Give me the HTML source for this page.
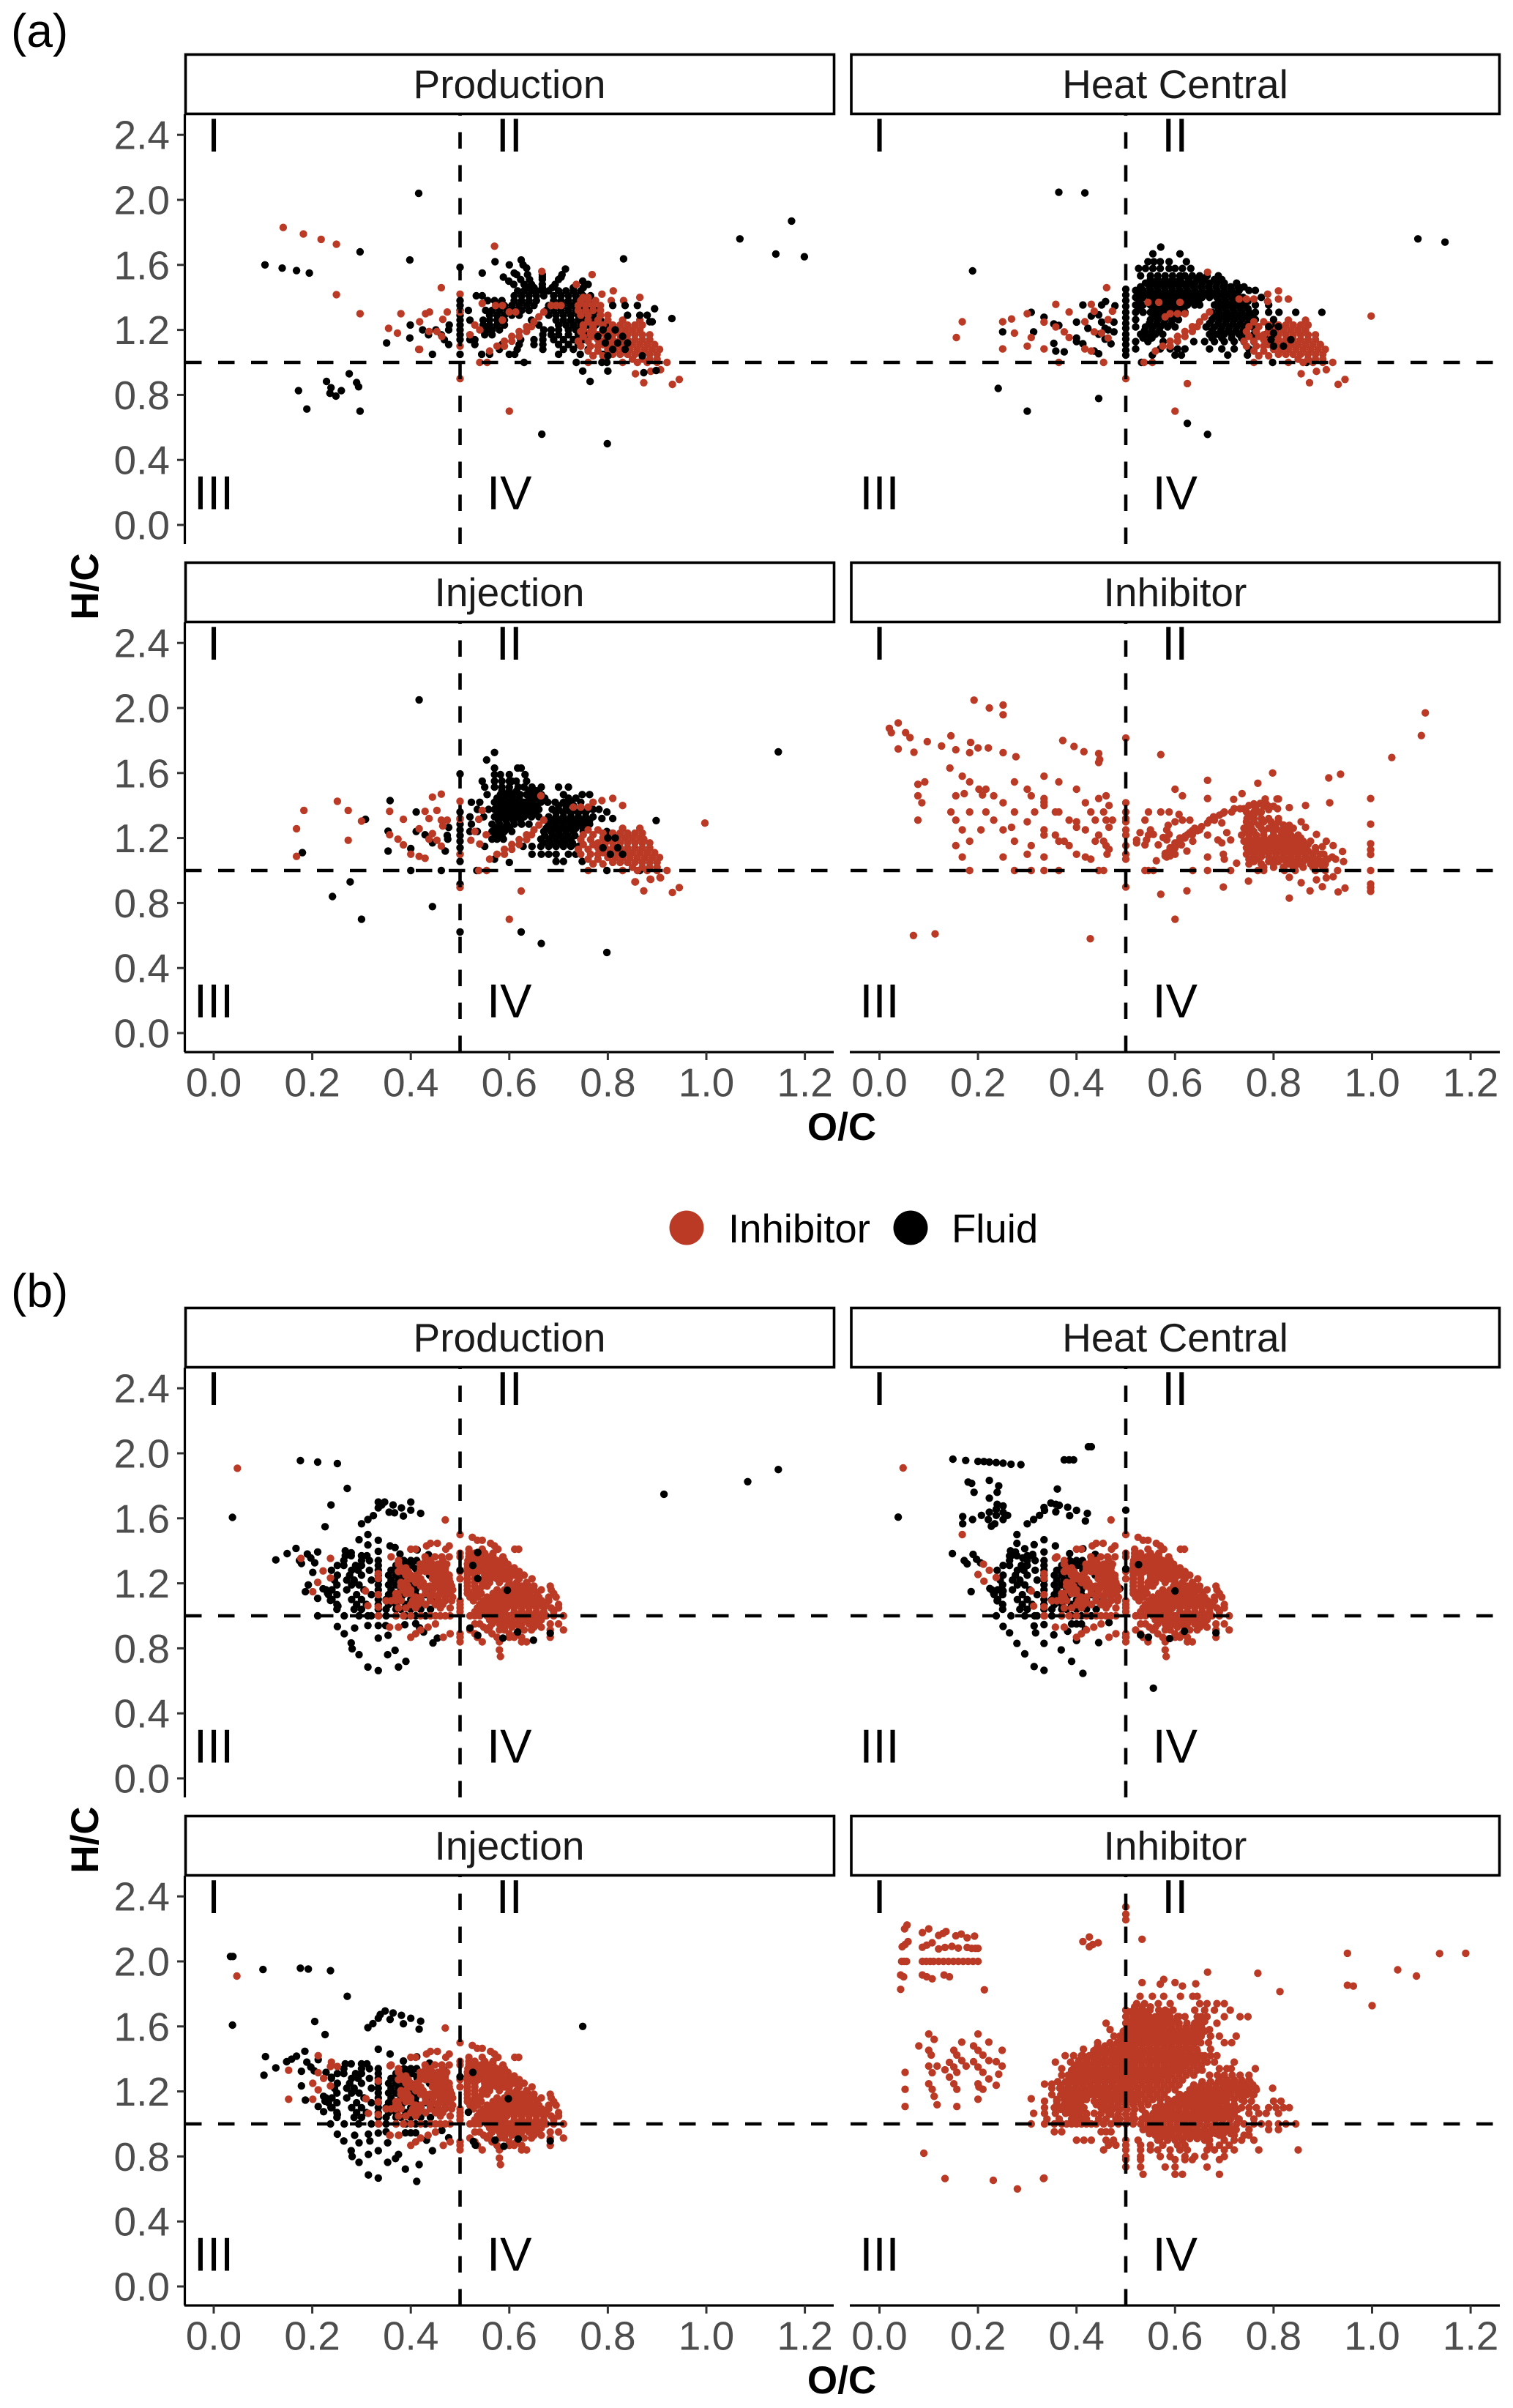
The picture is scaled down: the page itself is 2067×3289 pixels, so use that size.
<!DOCTYPE html>
<html lang="en">
<head>
<meta charset="utf-8">
<title>Van Krevelen H/C vs O/C faceted scatter</title>
<style>
html,body{margin:0;padding:0;background:#fff}
svg{display:block;font-family:"Liberation Sans",sans-serif}
</style>
</head>
<body>
<svg id="chart" xmlns="http://www.w3.org/2000/svg" width="2067" height="3289" viewBox="0 0 2067 3289">
<rect width="2067" height="3289" fill="#fff"/>
<g id="content"></g>
</svg>
<script>
// Each row: [H/C value, O/C value, O/C value, ...]
const xTickValues=[0,0.2,0.4,0.6,0.8,1,1.2];
const xTickLabels=["0.0","0.2","0.4","0.6","0.8","1.0","1.2"];
const yTickValues=[0,0.4,0.8,1.2,1.6,2,2.4];
const yTickLabels=["0.0","0.4","0.8","1.2","1.6","2.0","2.4"];
const facetTitles=["Production","Heat Central","Injection","Inhibitor"];
const legendLabels=["Inhibitor","Fluid"];
const thresholdOC=0.5;
const thresholdHC=1;

const aRedRay=[[1.07,.56],[1.10,.575,.59],[1.13,.59,.605],[1.16,.605,.62],[1.19,.62,.635],[1.22,.635,.645],[1.25,.65],[1.28,.66],[1.31,.67]];
const aRedLow=[[1.26,.83,.865],[1.23,.79,.81,.825,.84,.855,.87],[1.20,.79,.805,.82,.835,.85,.865],[1.17,.78,.795,.81,.825,.84,.855,.87,.885],[1.14,.78,.795,.81,.825,.84,.855,.87,.885],[1.11,.79,.805,.82,.835,.85,.865,.88,.895],[1.08,.80,.815,.83,.845,.86,.875,.89,.905],[1.05,.81,.825,.84,.855,.87,.885,.90],[1.02,.85,.87,.885,.90],[1.00,.76,.83,.86,.88,.90,.92],[.955,.907],[.945,.887],[.93,.856],[.895,.945],[.875,.873],[.865,.931]];
const aRedMid=[[1.25,.76,.78],[1.22,.75,.77],[1.19,.745,.765],[1.16,.75,.77],[1.13,.74,.76],[1.10,.745,.765,.78],[1.07,.76,.78],[1.04,.77,.79]];
const aRedHigh=[[1.54,.768],[1.48,.736],[1.44,.811],[1.42,.788],[1.40,.865,.75,.76],[1.38,.745,.76,.775,.807,.832],[1.35,.74,.755,.77,.785],[1.32,.74,.755,.77,.785],[1.29,.745,.76,.785,.80],[1.26,.76,.78,.80],[1.23,.75,.77],[1.20,.75,.77],[1.17,.765]];

const aProdFluid=[[2.04,.416],[1.87,1.173],[1.76,1.068],[1.68,.297],[1.667,1.141],[1.65,1.199],[1.637,.832],[1.63,.398,.624],[1.62,.571],[1.6,.104,.6,.628],[1.585,.5],[1.58,.139,.635],[1.575,.714],[1.565,.168],[1.55,.194,.545,.61],[1.54,.615,.637,.707,.667],[1.525,.588,.667,.705],[1.51,.623,.641,.70,.667],[1.5,.599,.749],[1.48,.609,.63,.645,.667,.693,.76],[1.46,.638,.65,.667,.687,.73,.75],[1.44,.617,.63,.645,.655,.667,.68,.70,.715,.73,.745],[1.41,.533,.545,.61,.625,.64,.655,.67,.69,.705,.72,.735,.75,.765],[1.38,.5,.556,.57,.585,.61,.625,.64,.655,.69,.705,.72,.735,.75,.77],[1.35,.5,.575,.59,.605,.62,.635,.65,.68,.695,.71,.725,.74,.755],[1.32,.5,.517,.552,.565,.58,.595,.61,.625,.64,.675,.69,.705,.72,.735,.75,.765,.78],[1.29,.5,.56,.575,.59,.605,.62,.68,.695,.71,.725,.74,.755,.77],[1.26,.5,.52,.547,.56,.575,.59,.645,.695,.71,.725,.74,.755,.77,.785],[1.23,.399,.478,.5,.547,.56,.575,.59,.66,.70,.715,.73,.745,.76,.775,.795],[1.20,.424,.451,.477,.5,.555,.565,.58,.67,.685,.70,.72,.735,.75,.77,.80],[1.17,.436,.462,.5,.52,.55,.565,.668,.685,.70,.72,.74,.76,.78,.81],[1.15,.398],[1.14,.468,.5,.52,.53,.623,.65,.668,.69,.71,.73,.75,.78],[1.12,.351],[1.11,.477,.53,.585,.62,.65,.668,.70,.72,.74,.79],[1.08,.58,.616,.668,.71,.73,.76],[1.05,.444,.5,.544,.56,.6,.611,.70,.744,.79],[.93,.275],[.883,.229],[.876,.29],[.85,.294],[.844,.238],[.826,.172,.259],[.81,.236],[.793,.248],[.713,.189],[.70,.297],[.558,.666],[.50,.799]];
const aProdFluidTop=[[1.35,.81,.835,.86],[1.33,.895],[1.29,.84,.865,.88],[1.27,.93],[1.25,.885,.89],[1.2,.79,.815],[1.16,.78,.80,.83],[1.12,.795,.82,.84],[1.08,.81,.835],[1.04,.80,.87],[1.0,.63,.736,.788,.798],[.947,.749,.80],[.937,.873],[.95,.898],[.883,.764]];
const aProdRed=[[1.83,.141],[1.79,.182],[1.757,.218],[1.727,.249],[1.715,.57],[1.56,.666],[1.46,.462],[1.42,.5],[1.417,.249],[1.363,.545],[1.35,.572,.586,.685,.695,.705],[1.31,.438,.474,.60,.613,.5],[1.30,.297,.38,.43],[1.265,.465],[1.26,.586],[1.25,.418],[1.23,.53],[1.21,.355],[1.20,.54],[1.19,.437,.453],[1.18,.373],[1.17,.52],[1.16,.463],[1.10,.5],[1.08,.418,.416],[1.0,.54,.555],[.90,.5],[.70,.6]];

const aHeatFluid=[[2.047,.364],[2.043,.417],[1.76,1.093],[1.74,1.148],[1.71,.571],[1.668,.555,.61],[1.62,.545,.557,.57,.588,.623],[1.578,.526,.54,.555,.57,.588,.60,.615,.632],[1.563,.189],[1.533,.53,.55,.565,.58,.595,.61,.62,.635,.65,.665,.688],[1.51,.55,.565,.58,.595,.61,.628,.645,.66,.68,.695],[1.488,.54,.555,.57,.585,.60,.615,.626,.64,.655,.67,.685,.70,.725],[1.465,.53,.548,.563,.578,.593,.608,.623,.638,.653,.668,.683,.698,.713,.728,.74],[1.45,.5],[1.443,.52,.535,.55,.565,.58,.595,.61,.625,.64,.655,.67,.685,.70,.715,.73,.75,.763],[1.42,.528,.543,.558,.573,.588,.603,.618,.633,.648,.663,.678,.693,.708,.723],[1.415,.5],[1.40,.52,.535,.55,.565,.58,.595,.61,.625,.64,.655,.67,.685,.70,.715,.73,.738,.775],[1.376,.528,.558,.573,.588,.603,.618,.633,.648,.688,.703,.718,.733,.748],[1.375,.459],[1.38,.5],[1.353,.413,.451,.52,.535,.55,.565,.58,.595,.61,.625,.64,.65,.68,.695,.71,.725,.74,.763,.79],[1.348,.478],[1.345,.5],[1.33,.528,.558,.573,.588,.603,.618,.688,.703,.718,.733,.748],[1.308,.308,.5,.52,.535,.55,.565,.58,.595,.61,.62,.675,.69,.705,.72,.735,.75,.763,.79,.811,.845,.898],[1.293,.445],[1.285,.43,.558,.573,.588,.60,.683,.698,.713,.728,.743,.757],[1.278,.334],[1.275,.5],[1.263,.52,.55,.565,.58,.595,.607,.675,.69,.705,.72,.735,.75,.763,.80],[1.248,.40,.451,.476],[1.24,.5,.548,.563,.578,.593,.67,.688,.703,.718,.733,.748],[1.237,.354],[1.228,.364],[1.218,.52,.54,.555,.57,.585,.60,.663,.68,.695,.71,.725,.74,.757,.80],[1.21,.423,.458,.5],[1.2,.464],[1.195,.538,.553,.568,.675,.693,.708,.723,.738],[1.188,.25,.313,.476],[1.173,.445,.5,.53,.545,.56,.575,.67,.685,.70,.715,.73,.745,.76,.785,.80],[1.15,.40,.535,.553,.675,.695,.715,.735],[1.143,.458,.5],[1.128,.40,.52,.545,.576,.638,.66,.68,.70,.72,.74,.76],[1.117,.354],[1.115,.413,.47],[1.11,.5],[1.083,.52,.57,.59,.605,.62,.67,.695,.72,.75],[1.075,.5],[1.07,.358,.436],[1.065,.375],[1.053,.445],[1.045,.5,.554,.60,.613,.707,.747],[1.0,.532,.798,.867],[.84,.241],[.778,.445],[.70,.30],[.625,.625],[.557,.666]];
const aHeatTop=[[1.22,.79,.81],[1.18,.80],[1.14,.795,.835],[1.10,.80,.82]];
const aHeatRed=[[1.555,.666],[1.46,.461],[1.44,.81],[1.42,.788],[1.39,.83,.81,.73,.745,.76],[1.375,.788],[1.37,.545,.567,.61],[1.357,.358,.43],[1.315,.436,.473],[1.31,.385],[1.30,.30,.59,.605,.62],[1.285,.998],[1.28,.58],[1.267,.268],[1.263,.464],[1.25,.168,.25,.417],[1.248,.334],[1.218,.358],[1.188,.375,.436],[1.18,.274,.451],[1.153,.156,.308,.385],[1.15,.464],[1.10,.30],[1.083,.25,.334,.417],[1.07,.43],[1.0,.364,.455,.537,.554],[.90,.5],[.87,.625],[.70,.6]];

const aInjFluid=[[2.05,.417],[1.73,1.146],[1.726,.57],[1.68,.554],[1.63,.57,.617,.624],[1.594,.5],[1.59,.57,.582,.60,.632],[1.55,.545,.57,.585,.60,.605,.614,.635],[1.513,.55,.57,.585,.60,.618,.63,.646,.665,.70,.72],[1.49,.585,.60,.615,.64,.655],[1.467,.555,.582,.595,.61,.622,.635,.65,.665,.71,.748,.763],[1.445,.575,.59,.605,.62,.64,.655,.672,.72,.735],[1.43,.358],[1.42,.523,.54,.57,.585,.60,.615,.63,.645,.664,.678,.693,.71,.725,.745],[1.40,.578,.593,.608,.623,.638,.653,.70,.715,.73],[1.376,.535,.558,.57,.585,.60,.615,.63,.645,.66,.687,.70,.715,.73,.745,.76,.77,.782],[1.36,.411,.5,.798],[1.355,.578,.593,.608,.623,.638,.653,.695,.71,.725,.74,.755],[1.33,.52,.548,.57,.585,.60,.615,.63,.645,.66,.68,.695,.71,.725,.74,.755,.77],[1.32,.5,.81,.788],[1.315,.308],[1.31,.578,.593,.608,.623,.688,.703,.718,.733,.748,.763],[1.307,.898],[1.285,.5,.523,.565,.58,.595,.61,.625,.64,.68,.695,.71,.725,.74,.755,.763],[1.265,.477],[1.26,.573,.588,.60,.675,.69,.705,.72,.735,.75],[1.25,.5],[1.242,.354],[1.24,.411,.52,.535,.565,.58,.59,.605,.67,.685,.70,.715,.73,.75,.798],[1.22,.429],[1.216,.474],[1.215,.5,.572,.585,.672,.688,.703,.718,.733],[1.193,.475,.565,.575,.588,.664,.68,.695,.71,.725,.745],[1.18,.5],[1.17,.444,.668,.683,.698,.713,.728],[1.148,.55,.628,.646,.664,.68,.695,.71,.725,.74],[1.14,.5],[1.135,.40],[1.12,.354,.47],[1.11,.18],[1.10,.5,.646,.665,.68,.695,.72,.735],[1.07,.57],[1.056,.5,.695,.71,.748],[1.05,.6],[1.0,.40,.462,.534,.798,.865],[.93,.277],[.916,.5],[.84,.241],[.778,.444],[.70,.30],[.622,.5,.624],[.551,.665],[.496,.798]];
const aInjTop=[[1.2,.80,.815],[1.14,.79,.82],[1.10,.805,.83]];
const aInjRed=[[1.47,.462],[1.46,.664],[1.452,.444],[1.444,.81],[1.43,.788],[1.426,.251,.5],[1.42,.77],[1.40,.83],[1.39,.73,.745,.76],[1.37,.183,.273,.453,.545],[1.364,.357,.429],[1.32,.437],[1.315,.385,.5,.538],[1.31,.462,.474],[1.304,.30],[1.292,.997],[1.274,.465],[1.257,.168,.417],[1.24,.53],[1.227,.444],[1.22,.357,.553],[1.216,.84],[1.193,.374,.437,.873],[1.186,.273,.453,.522],[1.163,.54],[1.158,.385],[1.15,.462],[1.10,.40,.5],[1.087,.168,.417],[1.075,.429],[1.0,.538,.554],[.957,.906],[.947,.886],[.93,.855],[.896,.5],[.874,.624],[.70,.6]];

const aInhRed=[[2.048,.192],[2.018,.251],[2.0,.223],[1.97,1.108],[1.958,.251],[1.908,.038],[1.875,.02],[1.848,.024,.053],[1.83,1.10],[1.829,.145],[1.818,.062],[1.815,.5],[1.80,.372],[1.793,.097],[1.788,.185],[1.766,.126],[1.763,.395],[1.754,.20,.221],[1.748,.038],[1.743,.155],[1.731,.415],[1.728,.07],[1.725,.183,.251],[1.72,.445],[1.713,.571],[1.70,.277],[1.695,1.04],[1.683,.447],[1.665,.445],[1.63,.143],[1.60,.798],[1.593,.936],[1.58,.168,.334],[1.57,.912],[1.555,.666],[1.545,.183,.092,.274,.364],[1.537,.768],[1.53,.078],[1.50,.202,.216,.30,.40,.60],[1.473,.172,.736],[1.465,.209],[1.46,.078,.155,.232,.308,.46,.615],[1.443,.334,.445,.666,.997],[1.44,.783,.807,.81],[1.438,.719],[1.42,.334],[1.417,.086,.251,.418,.5,.914],[1.413,.773],[1.40,.334,.466,.76,.865],[1.387,.832],[1.38,.808,.732],[1.375,.79],[1.36,.145,.183,.216,.274,.315,.357,.364,.429,.455,.5,.546,.571,.588,.745,.76,.77,.775],[1.353,.698],[1.345,.608],[1.33,.678],[1.32,.5,.746,.76,.775,.79,.81],[1.31,.078,.155,.232,.385,.438,.46,.473,.539,.615,.63],[1.30,.30,.40,.5,.60,.745,.76,.78,.795,.81,.856],[1.293,.666,.695],[1.285,.997],[1.278,.586,.832],[1.27,.654],[1.266,.268,.40,.466,.865],[1.26,.64,.74,.755,.775,.79,.805,.82,.84],[1.25,.168,.206,.251,.334,.418,.5,.55,.583],[1.233,.529,.63,.705],[1.222,.556,.588,.887],[1.218,.334,.357,.445,.5,.546,.666,.735,.75,.765,.78,.80,.82,.835,.85],[1.21,.62],[1.203,.576],[1.188,.522,.542,.583,.61,.687,.713],[1.18,.183,.274,.364,.375,.438,.455,.636,.74,.755,.77,.785,.80,.815,.83,.845,.86,.875,.907],[1.17,.522,.695],[1.158,.539,.566,.60,.613],[1.153,.155,.308,.385,.46,.5,.921],[1.147,.899],[1.14,.745,.76,.775,.79,.805,.82,.835,.85,.865,.885],[1.135,.59],[1.13,.466],[1.12,.624],[1.117,.94],[1.105,.58],[1.10,.30,.40,.462,.5,.60,.698,.745,.76,.775,.79,.805,.82,.835,.85,.865,.88,.895,.902],[1.083,.168,.251,.334,.418,.583,.666,.919],[1.07,.429,.5,.70,.75,.765,.80,.815,.83,.85,.87,.89,.91,.926],[1.165,.997],[1.128,.997],[1.098,.997],[1.06,.562],[1.055,.942],[1.045,.725],[1.04,.75,.775,.80,.83,.85,.875,.89,.905],[1.0,.183,.274,.308,.334,.364,.445,.455,.539,.546,.556,.636,.666,.713,.768,.78,.822,.844,.885,.905,.93,.997],[.962,.921],[.958,.832],[.955,.907],[.943,.887],[.935,.749],[.925,.856],[.917,.997],[.90,.899],[.898,.5,.698],[.895,.997],[.892,.945],[.875,.624,.874],[.872,.997],[.868,.931],[.854,.571],[.83,.832],[.70,.60],[.61,.113],[.60,.069],[.58,.428]];
const aInhRidge=[[1.41,.76,.785],[1.395,.78,.79,.80],[1.38,.72,.74],[1.40,.75,.765],[1.36,.70,.715],[1.34,.69],[1.31,.67,.68],[1.25,.65],[1.245,.635,.645],[1.22,.625,.635],[1.2,.61,.62],[1.17,.60,.61],[1.14,.59,.60],[1.11,.585,.595],[1.09,.58,.59]];
const aInhDense=[[1.34,.75,.76],[1.28,.75,.77,.80,.82],[1.24,.745,.76,.78,.80,.815,.83],[1.2,.75,.765,.78,.795,.81,.825,.84,.855],[1.16,.75,.765,.78,.795,.81,.825,.84,.855,.87],[1.12,.75,.765,.78,.795,.81,.825,.84,.855,.87,.885],[1.085,.76,.775,.79,.805,.82,.835,.85,.865,.88],[1.055,.76,.79,.81,.825,.84,.86,.88,.90],[1.02,.78,.80,.82,.84,.86,.88,.90]];

const bRedFan=[[1.59,.47],[1.50,.5],[1.483,.525],[1.465,.535,.545],[1.446,.562,.44,.454],[1.43,.57,.478,.432],[1.41,.518,.545,.577,.611,.619,.40,.41,.471],[1.385,.518,.53,.55,.567,.5],[1.363,.518,.528,.542,.552,.56,.567,.587,.36,.429,.449,.463,.478,.5],[1.34,.516,.53,.545,.56,.575,.59,.44,.465,.375,.43],[1.318,.515,.525,.537,.543,.555,.565,.575,.585,.597,.375,.419,.429,.444,.455,.465,.473],[1.295,.515,.53,.545,.56,.57,.585,.60,.61,.38,.39,.42,.435,.45,.46,.47],[1.273,.515,.525,.537,.548,.56,.575,.59,.605,.62,.375,.385,.395,.419,.43,.439,.45,.46,.47,.5],[1.25,.515,.53,.55,.565,.58,.595,.61,.63,.39,.40,.412,.445,.455,.465,.478],[1.228,.515,.53,.55,.562,.575,.59,.60,.62,.646,.40,.41,.42,.444,.455,.467,.478,.5],[1.205,.515,.53,.545,.56,.58,.60,.615,.635,.38,.39,.41,.425,.45,.465,.48],[1.183,.515,.53,.545,.555,.597,.61,.625,.64,.65,.683,.38,.394,.42,.43,.439,.454,.468,.483],[1.16,.515,.53,.54,.575,.59,.605,.62,.635,.65,.665,.685,.385,.40,.43,.445,.46,.475,.485],[1.138,.515,.525,.533,.543,.567,.58,.595,.61,.625,.64,.656,.69,.37,.374,.39,.40,.43,.444,.459,.47,.48],[1.115,.52,.535,.555,.57,.585,.60,.615,.63,.645,.66,.68,.695,.37,.375,.41,.42,.44,.455,.47,.485],[1.093,.527,.547,.56,.575,.59,.605,.62,.635,.65,.666,.68,.35,.36,.37,.38,.404,.419,.44,.455,.47,.483,.5],[1.07,.54,.555,.57,.585,.60,.615,.63,.645,.66,.675,.70,.40,.415,.43,.45,.465,.5],[1.048,.535,.55,.565,.58,.595,.61,.625,.64,.655,.67,.685,.70,.375,.39,.41,.46,.48,.5],[1.025,.53,.545,.56,.575,.59,.61,.625,.64,.655,.67,.69,.5],[1.0,.335,.37,.385,.40,.42,.44,.45,.46,.47,.48,.52,.53,.54,.555,.57,.585,.60,.615,.63,.645,.66,.675,.69,.71],[.975,.56,.575,.59,.605,.62,.635,.65,.665],[.95,.53,.54,.565,.58,.595,.61,.625,.64,.655,.683,.70,.45],[.93,.357,.375,.548,.56,.59,.605,.62,.65,.665,.435],[.913,.52,.555,.58,.59,.63,.645,.683,.71,.42],[.89,.53,.565,.60,.615,.41,.48,.5],[.868,.535,.575,.60,.61,.625,.683,.40,.466,.5],[.84,.545,.58,.625,.635,.5],[.79,.58],[.75,.582]];
const bFluidCore=[[1.37,.267,.279,.30,.311],[1.34,.264,.30,.316,.334,.386,.40,.412],[1.31,.251,.264,.288,.30,.334,.37,.39,.402,.438],[1.28,.239,.28,.293,.316,.334,.36,.375,.413],[1.25,.251,.276,.30,.334,.355,.37,.385,.40,.438],[1.22,.245,.27,.285,.32,.334,.36,.375,.39,.405,.42],[1.19,.25,.28,.295,.334,.355,.37,.385,.40,.415,.466],[1.16,.228,.24,.27,.305,.334,.36,.38,.395,.41,.43],[1.13,.233,.25,.29,.32,.334,.355,.37,.385,.41,.43,.44],[1.10,.24,.28,.30,.334,.35,.36,.38,.40,.42,.44,.455],[1.07,.25,.29,.31,.334,.355,.37,.39,.41,.43,.45],[1.04,.25,.285,.30,.334,.35,.37,.38,.40,.42,.44],[1.0,.32,.35,.37,.39,.41,.43]];
const bProdFluid=[[1.955,.176],[1.946,.211],[1.937,.251],[1.90,1.146],[1.825,1.084],[1.784,.271],[1.748,.914],[1.70,.334,.347,.40],[1.682,.238,.341,.364],[1.664,.334,.381],[1.65,.40],[1.638,.356],[1.634,.367],[1.63,.42],[1.616,.324],[1.614,.385],[1.606,.038],[1.593,.313],[1.566,.30],[1.548,.226],[1.50,.313],[1.468,.295],[1.465,.334],[1.436,.313],[1.43,.358],[1.42,.368],[1.415,.167],[1.406,.413],[1.40,.267],[1.397,.334],[1.393,.211],[1.388,.279],[1.383,.149],[1.38,.19,.378],[1.376,.436],[1.356,.197],[1.344,.126],[1.34,.174],[1.326,.205],[1.322,.178],[1.29,.41],[1.267,.201],[1.19,.192],[1.166,.222],[1.148,.186],[1.139,.231],[1.107,.211],[1.094,.237],[1.06,.252],[1.0,.211,.265,.295,.313],[.952,.41],[.945,.388],[.94,.313,.334,.349],[.934,.251],[.926,.418],[.925,.286],[.90,.426],[.89,.265],[.88,.354],[.863,.334,.454],[.833,.279,.445],[.797,.281],[.788,.368],[.761,.295,.353],[.72,.39],[.685,.313,.375],[.663,.334]];
const bProdTop=[[1.39,.536],[1.31,.526],[1.28,.5],[1.23,.536],[1.157,.596],[.925,.52],[.90,.617],[.893,.683],[.88,.536],[.863,.587],[.85,.649]];
const bProdRed=[[1.908,.048],[1.353,.177,.237],[1.276,.222],[1.233,.237],[1.206,.211],[1.148,.201],[1.062,.313],[1.26,.334],[1.23,.334],[1.153,.308],[1.13,.334],[1.055,.334],[1.0,.334]];
const bHeatFluid=[[2.04,.424,.43],[1.964,.149],[1.96,.375,.385,.394],[1.956,.175],[1.95,.20],[1.949,.212],[1.946,.223],[1.943,.237],[1.939,.251],[1.933,.267],[1.93,.287],[1.833,.223],[1.823,.18],[1.815,.187],[1.80,.242],[1.78,.361],[1.76,.192,.239],[1.724,.223],[1.694,.348],[1.686,.239,.358],[1.68,.365],[1.676,.251],[1.668,.382],[1.667,.334],[1.656,.237],[1.65,.5],[1.649,.335,.40],[1.64,.358],[1.637,.251],[1.638,.223],[1.63,.422],[1.618,.207,.26,.237,.325],[1.616,.386],[1.611,.169],[1.607,.038],[1.593,.189,.221,.251,.313],[1.584,.418],[1.566,.169,.234,.30],[1.551,.227],[1.50,.279],[1.468,.334],[1.446,.279],[1.438,.314],[1.43,.357],[1.413,.295,.413],[1.40,.266],[1.393,.276,.334],[1.383,.148,.386],[1.378,.19,.311,.438],[1.368,.264],[1.356,.291],[1.348,.197,.30],[1.34,.172],[1.333,.39,.402,.466],[1.326,.205],[1.32,.178],[1.296,.413],[1.25,.438],[1.206,.466],[1.168,.224,.488],[1.153,.251],[1.149,.186],[1.138,.232],[1.093,.239],[1.0,.237,.267,.295,.315],[.958,.466],[.95,.39,.40,.41],[.946,.334],[.938,.314],[.935,.251],[.916,.418],[.905,.382],[.895,.264,.317],[.883,.354],[.868,.5],[.848,.40],[.835,.445],[.83,.279,.334],[.79,.369],[.766,.295],[.72,.39],[.688,.314],[.665,.334],[.646,.413],[.555,.556]];
const bHeatTop=[[1.315,.526],[1.288,.5],[1.153,.60],[.905,.619],[.895,.683],[.883,.53],[.868,.546],[.86,.589]];
const bHeatRed=[[1.91,.048],[1.50,.168],[1.356,.357],[1.318,.211],[1.28,.223],[1.26,.334],[1.254,.20],[1.236,.237],[1.23,.334],[1.213,.212],[1.153,.308],[1.13,.334],[1.06,.313],[1.055,.334],[1.0,.334]];
const bInjFluid=[[2.03,.034,.039],[1.958,.176],[1.953,.192],[1.95,.10],[1.943,.237],[1.785,.271],[1.695,.348],[1.683,.364],[1.673,.338],[1.668,.381],[1.65,.334,.40],[1.643,.358],[1.632,.42],[1.63,.205],[1.617,.323],[1.616,.385],[1.608,.038],[1.60,.749],[1.593,.313],[1.583,.417],[1.55,.226],[1.46,.334],[1.447,.185],[1.43,.358],[1.417,.168],[1.414,.105],[1.413,.412],[1.398,.158],[1.395,.212],[1.387,.385],[1.383,.148],[1.38,.189],[1.375,.438],[1.35,.197],[1.345,.126],[1.335,.389],[1.332,.467],[1.327,.204],[1.324,.178],[1.317,.228],[1.30,.102],[1.293,.412],[1.287,.239],[1.252,.438],[1.234,.178],[1.203,.467],[1.177,.412],[1.17,.223],[1.147,.186],[1.14,.226],[1.107,.212],[1.10,.238],[1.075,.223],[1.057,.251],[1.0,.237,.265,.294],[.96,.463],[.952,.35],[.945,.389,.40,.41],[.944,.334],[.937,.251,.314],[.93,.286],[.915,.477],[.90,.432],[.895,.264,.317],[.884,.295,.353],[.835,.279,.334,.444],[.812,.314,.375],[.80,.281],[.787,.369],[.764,.295,.353],[.75,.417],[.722,.389],[.686,.314],[.667,.334],[.647,.412]];
const bInjTop=[[1.317,.526],[1.29,.5],[1.155,.598],[1.072,.517],[.907,.618],[.90,.571],[.895,.683],[.892,.527],[.87,.531],[.862,.589]];
const bInjRed=[[1.91,.047],[1.42,.212],[1.38,.239],[1.357,.358],[1.353,.237,.251],[1.33,.152],[1.315,.212],[1.28,.223],[1.264,.334],[1.25,.201],[1.234,.237],[1.21,.212],[1.155,.309],[1.152,.152,.201],[1.135,.334],[1.065,.314],[1.057,.334],[1.0,.334],[.93,.358,.376]];

const bInhOutliers=[[2.335,.5],[2.29,.5],[2.256,.5],[2.224,.056],[2.20,.051,.10],[2.184,.135],[2.177,.087],[2.172,.129],[2.168,.166],[2.16,.12],[2.157,.155],[2.156,.193],[2.15,.426],[2.145,.178],[2.136,.533],[2.122,.058,.413],[2.115,.107,.444],[2.104,.052,.433],[2.10,.096],[2.093,.147],[2.09,.046,.426],[2.087,.087],[2.086,.133,.178],[2.082,.16],[2.08,.195,.187,.2],[2.077,.12],[2.05,.95,1.19],[2.048,1.137],[2.0,.045,.05,.055,.087,.095,.103,.11,.12,.13,.14,.15,.16,.17,.18,.19,.2],[1.948,1.052],[1.934,.666],[1.927,.768],[1.916,.043,.087,.131],[1.91,1.09],[1.905,.049,.096,.142],[1.893,.107],[1.889,.577],[1.87,.533,.60],[1.862,.642],[1.86,.57],[1.853,.95],[1.848,.962,.615],[1.828,.043],[1.825,.213],[1.814,.813],[1.728,1.0],[1.553,.10,.20],[1.52,.111],[1.503,.167,.222],[1.48,.08,.191],[1.453,.10,.151,.20,.249],[1.424,.105,.157,.21],[1.39,.167,.222],[1.383,.191,.237],[1.379,.142],[1.356,.10,.117,.176,.249],[1.35,.151,.20],[1.333,.133],[1.317,.052,.157,.21],[1.315,.107],[1.306,.242],[1.288,.142],[1.277,.222],[1.247,.10,.151,.20],[1.238,.237],[1.227,.202],[1.213,.052,.107,.157,.21],[1.17,.111],[1.152,.20],[1.118,.117],[1.107,.052,.157],[.82,.09],[.664,.133,.333],[.667,.334],[.653,.231],[.60,.28]];
const bInhBlob=[[1.785,.529,.554,.577,.611,.636,.645],[1.74,.522,.538,.566,.59,.65,.665,.685,.70],[1.70,.5,.517,.533,.549,.567,.58,.596,.64,.66,.68,.712],[1.66,.5,.515,.53,.546,.56,.576,.59,.605,.62,.645,.665,.70,.732,.748],[1.62,.46,.5,.512,.528,.544,.56,.576,.592,.608,.624,.64,.655,.685],[1.58,.468,.5,.512,.528,.544,.56,.576,.592,.608,.624,.64,.656,.67],[1.54,.476,.49,.506,.522,.538,.554,.57,.586,.602,.618,.634,.65,.672,.69,.724],[1.50,.443,.468,.483,.496,.512,.528,.544,.56,.576,.592,.608,.624,.64,.652,.668,.70,.715],[1.46,.414,.44,.456,.472,.488,.50,.516,.532,.548,.564,.58,.596,.612,.628,.644,.672],[1.42,.377,.394,.41,.426,.442,.458,.474,.488,.50,.516,.532,.548,.564,.58,.596,.612,.628,.644,.66,.672,.685],[1.38,.357,.388,.404,.42,.436,.452,.468,.484,.50,.516,.532,.548,.564,.58,.596,.612,.628,.64,.665,.68,.72],[1.34,.37,.394,.41,.426,.442,.458,.474,.488,.50,.516,.532,.548,.564,.58,.596,.612,.69,.705,.714,.763],[1.30,.37,.385,.40,.416,.432,.448,.464,.48,.492,.508,.524,.54,.556,.572,.588,.67,.686,.70,.716,.732,.75],[1.26,.362,.378,.394,.41,.426,.442,.458,.474,.488,.50,.516,.532,.548,.564,.655,.672,.688,.704,.72,.736,.752],[1.245,.335,.35],[1.22,.35,.366,.382,.398,.414,.43,.446,.462,.478,.492,.508,.524,.545,.635,.652,.668,.684,.70,.716,.732,.748,.764,.798],[1.18,.35,.37,.388,.404,.42,.436,.452,.468,.484,.50,.516,.53,.61,.626,.642,.658,.674,.69,.706,.73,.746,.76],[1.14,.335,.36,.378,.394,.41,.436,.452,.468,.484,.50,.515,.59,.606,.622,.638,.654,.67,.686,.702,.74,.755,.80,.815],[1.155,.308],[1.10,.335,.355,.37,.385,.40,.415,.45,.466,.482,.50,.56,.576,.592,.608,.624,.64,.656,.672,.688,.704,.715,.735,.75,.765,.79,.805,.82,.832],[1.065,.313,.335,.357,.378,.392,.405,.42,.436,.45,.466,.54,.556,.572,.588,.604,.62,.636,.652,.668,.684,.70,.715,.75,.77,.785,.81],[1.03,.34,.365,.39,.405,.42,.445,.46,.48,.515,.535,.552,.568,.584,.60,.616,.632,.648,.664,.68,.696,.712,.73,.76],[1.0,.308,.335,.355,.37,.38,.39,.40,.41,.42,.43,.44,.455,.47,.485,.5,.515,.53,.545,.56,.575,.59,.605,.62,.635,.65,.665,.68,.695,.71,.725,.74,.76,.775,.79,.81,.825,.845],[.965,.535,.55,.565,.58,.596,.612,.628,.644,.66,.676,.692,.708,.724,.75,.79,.81],[.952,.355,.37,.45,.46,.47],[.93,.56,.576,.592,.608,.624,.64,.655,.67,.69,.72,.74,.75],[.90,.40,.415,.43,.46,.475,.5,.525,.565,.585,.60,.615,.66,.67,.70,.72,.735,.76],[.87,.465,.48,.5,.53,.55,.575,.605,.62,.67,.69,.71],[.84,.455,.5,.53,.55,.565,.59,.61,.625,.665,.68,.70,.72,.77,.85],[.80,.5,.53,.57,.59,.62,.64,.66,.70],[.78,.5,.53,.60,.62,.635,.69],[.735,.5,.53,.58,.60,.665],[.69,.535,.60,.615,.69]];
const bInhDense=[[1.72,.518,.533,.55],[1.69,.51,.525,.54,.57,.585],[1.66,.518,.533,.548,.563,.578,.608,.653],[1.63,.51,.525,.54,.555,.57,.585,.60,.645,.66],[1.60,.503,.518,.533,.548,.563,.578,.593,.608,.623,.638,.653],[1.57,.495,.51,.525,.54,.555,.57,.585,.60,.615,.63,.645,.66],[1.54,.488,.503,.518,.533,.548,.563,.578,.593,.608,.623,.638,.653],[1.51,.495,.51,.525,.54,.555,.57,.585,.60,.615,.63,.645],[1.48,.443,.458,.473,.488,.503,.518,.533,.548,.563,.578,.593,.608,.623,.638],[1.45,.435,.45,.465,.48,.495,.51,.525,.54,.555,.57,.585,.60,.615,.63,.645],[1.42,.413,.428,.443,.458,.473,.488,.503,.518,.533,.548,.563,.578,.593,.608,.623,.638,.653],[1.39,.405,.42,.435,.45,.465,.48,.495,.51,.525,.54,.555,.57,.585,.60,.615,.63,.645,.66],[1.36,.398,.413,.428,.443,.458,.473,.488,.503,.518,.533,.548,.563,.578,.593,.608,.623,.638,.653],[1.33,.39,.405,.42,.435,.45,.465,.48,.495,.51,.525,.54,.555,.57,.585,.60,.615,.63,.645,.655],[1.30,.383,.398,.413,.428,.443,.458,.473,.488,.503,.518,.533,.548,.563,.578,.593,.608,.623,.638],[1.27,.39,.405,.42,.435,.45,.465,.48,.495,.51,.525,.54,.555,.57,.585,.60,.615,.69,.705,.72,.735,.75],[1.24,.368,.383,.398,.413,.428,.443,.458,.473,.488,.503,.518,.533,.548,.563,.578,.593,.608,.638,.653,.668,.683,.698,.713,.728,.743,.758],[1.21,.375,.39,.405,.42,.435,.45,.465,.48,.495,.51,.525,.54,.555,.57,.585,.60,.63,.645,.66,.675,.69,.705,.72,.735,.75,.765],[1.18,.368,.383,.398,.413,.428,.443,.458,.473,.488,.503,.518,.533,.548,.563,.578,.608,.623,.638,.653,.668,.683,.698,.713,.728,.743,.758],[1.15,.36,.375,.39,.405,.42,.45,.465,.48,.495,.51,.525,.54,.555,.57,.585,.60,.615,.63,.645,.66,.675,.69,.705,.72,.735],[1.12,.36,.375,.39,.405,.44,.455,.47,.485,.5,.515,.53,.545,.57,.585,.60,.615,.63,.645,.66,.675,.69,.705,.72],[1.09,.368,.383,.398,.413,.458,.473,.488,.503,.518,.533,.563,.578,.593,.608,.623,.638,.653,.668,.683,.698,.713,.728],[1.06,.39,.405,.42,.47,.485,.50,.515,.54,.555,.57,.585,.60,.615,.63,.645,.66,.675,.69,.705,.72],[1.03,.398,.413,.488,.503,.518,.533,.548,.563,.578,.593,.608,.623,.638,.653,.668,.683,.698,.713,.728],[.97,.54,.555,.57,.585,.60,.615,.63,.645,.66,.675,.69,.705,.72],[.94,.548,.563,.578,.593,.608,.623,.638,.653,.668,.683,.698,.713],[.91,.57,.585,.60,.615,.63,.645,.66]];

const panelSpecs=[
 {group:"a",rowOffset:0,col:0,title:facetTitles[0],fluid:[aProdFluid],red:[aRedRay,aRedLow,aRedMid,aRedHigh,aProdRed],top:[aProdFluidTop]},
 {group:"a",rowOffset:0,col:1,title:facetTitles[1],fluid:[aHeatFluid],red:[aRedRay,aRedLow,aRedMid,aHeatRed],top:[aHeatTop]},
 {group:"a",rowOffset:694,col:0,title:facetTitles[2],fluid:[aInjFluid],red:[aRedRay,aRedLow,aRedMid,aInjRed],top:[aInjTop]},
 {group:"a",rowOffset:694,col:1,title:facetTitles[3],fluid:[],red:[aInhRed,aInhRidge,aInhDense],top:[]},
 {group:"b",rowOffset:1712,col:0,title:facetTitles[0],fluid:[bFluidCore,bProdFluid],red:[bRedFan,bProdRed],top:[bProdTop]},
 {group:"b",rowOffset:1712,col:1,title:facetTitles[1],fluid:[bFluidCore,bHeatFluid],red:[bRedFan,bHeatRed],top:[bHeatTop]},
 {group:"b",rowOffset:2406,col:0,title:facetTitles[2],fluid:[bFluidCore,bInjFluid],red:[bRedFan,bInjRed],top:[bInjTop]},
 {group:"b",rowOffset:2406,col:1,title:facetTitles[3],fluid:[],red:[bInhBlob,bInhDense,bInhOutliers],top:[]}
];

const NS="http://www.w3.org/2000/svg";
const root=document.getElementById("content");
const RED="#BA3A26";
function xPos(col,v){return (col?1201.5:292)+v*673;}
function yPos(off,v){return 717+off-222*v;}
function el(tag,attrs,parent){
  const e=document.createElementNS(NS,tag);
  for(const k in attrs)e.setAttribute(k,attrs[k]);
  (parent||root).appendChild(e);
  return e;
}
function drawSeries(rowSets,col,off,color,name,parent){
  rowSets.forEach(function(rows){
    rows.forEach(function(row){
      for(let k=1;k<row.length;k++){
        const c=el("circle",{cx:xPos(col,row[k]).toFixed(1),cy:yPos(off,row[0]).toFixed(1),r:5.2,fill:color},parent);
        
        
      }
    });
  });
}
function label(txt,x,y,size,anchor,color,weight,parent){
  const t=el("text",{x:x,y:y,"font-size":size,"text-anchor":anchor,fill:color},parent);
  if(weight)t.setAttribute("font-weight",weight);
  t.textContent=txt;
  return t;
}
panelSpecs.forEach(function(p){
  const L=p.col?1162:253, R=p.col?2049:1139, off=p.rowOffset, top=156+off, bot=743+off;
  const g=el("g",{});
  
  
  const strip=el("rect",{x:p.col?1163:253.5,y:74.5+off,width:p.col?885.5:886,height:81,fill:"#fff",stroke:"#000","stroke-width":3.6},g);
  
  
  const st=label(p.title,(L+R)/2,134+off,55,"middle","#1A1A1A",null,g);
  
  

  drawSeries(p.fluid,p.col,off,"#000","fluid-point",g);
  drawSeries(p.red,p.col,off,RED,"inhibitor-point",g);
  drawSeries(p.top,p.col,off,"#000","fluid-point",g);

  const h=el("line",{x1:L,x2:R,y1:yPos(off,thresholdHC),y2:yPos(off,thresholdHC),stroke:"#000","stroke-width":4.6,"stroke-dasharray":"22.5 22.5"},g);
  
  
  const v=el("line",{x1:xPos(p.col,thresholdOC),x2:xPos(p.col,thresholdOC),y1:bot,y2:top,stroke:"#000","stroke-width":4.6,"stroke-dasharray":"22.5 22.5"},g);
  
  

  const quads=[["I",0,2.4],["II",0.6,2.4],["III",0,0.2],["IV",0.6,0.2]];
  quads.forEach(function(q){
    const t=label(q[0],xPos(p.col,q[1]),yPos(off,q[2])+23,65,"middle","#000",null,g);
    
    
  });

  if(p.col===0){
    const a=el("line",{x1:252.5,x2:252.5,y1:top,y2:bot,stroke:"#000","stroke-width":3.2},g);
    
    
    yTickValues.forEach(function(val,i){
      const y=yPos(off,val);
      const tk=el("line",{x1:242,x2:252,y1:y,y2:y,stroke:"#333","stroke-width":3},g);
      
      
      const tl=label(yTickLabels[i],232,y+19.5,55,"end","#4D4D4D",null,g);
      
      
    });
  }
  if(off===694||off===2406){
    const a=el("line",{x1:L-1,x2:R,y1:bot,y2:bot,stroke:"#000","stroke-width":3.2},g);
    
    
    xTickValues.forEach(function(val,i){
      const x=xPos(p.col,val);
      const tk=el("line",{x1:x,x2:x,y1:bot,y2:bot+11,stroke:"#333","stroke-width":3},g);
      
      
      const tl=label(xTickLabels[i],x,bot+60.5,55,"middle","#4D4D4D",null,g);
      
      
    });
  }
});
[0,1712].forEach(function(off){
  const xt=label("O/C",1150,1557+off,53,"middle","#000","bold");
  
  
  const yt=label("H/C",0,0,53,"middle","#000","bold");
  yt.setAttribute("transform","translate(134,"+(801+off)+") rotate(-90)");
  
  
});
const lab1=label("(a)",15,64,64,"start","#000");


const lab2=label("(b)",15,1785,64,"start","#000");


const lc1=el("circle",{cx:938,cy:1677,r:23.5,fill:RED});


const lt1=label(legendLabels[0],995,1697,54.5,"start","#000");


const lc2=el("circle",{cx:1244,cy:1677,r:23.5,fill:"#000"});


const lt2=label(legendLabels[1],1300,1697,54.5,"start","#000");


</script>
</body>
</html>
